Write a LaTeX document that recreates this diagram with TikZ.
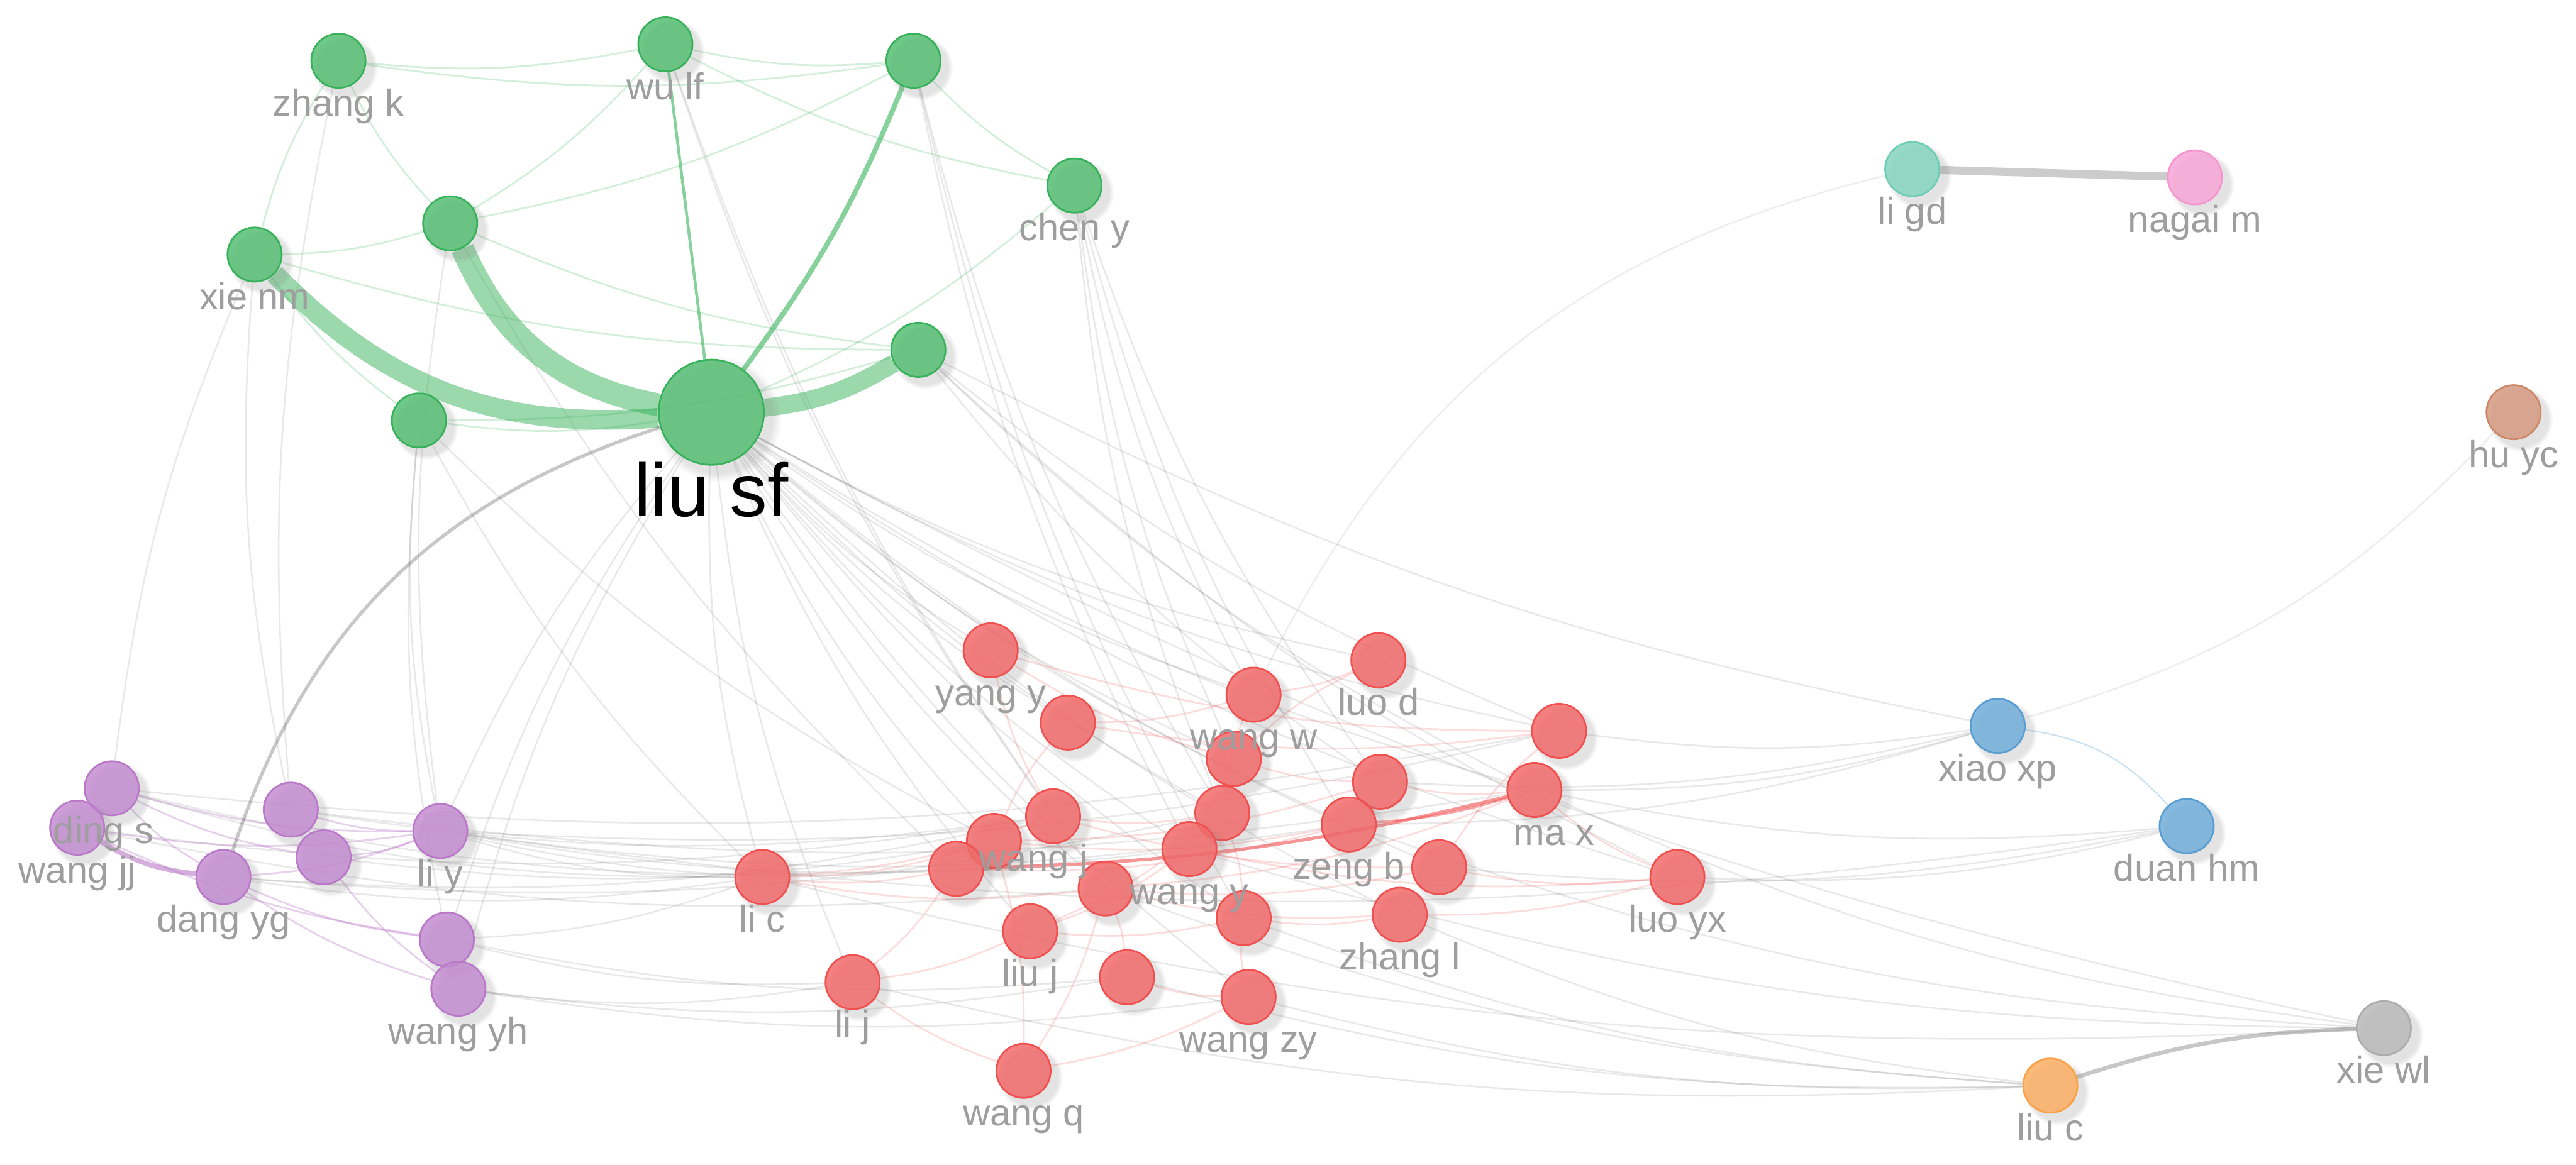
\documentclass[tikz,border=0pt]{standalone}
\usepackage{fontspec}
\setmainfont{Liberation Sans}
\usepackage{xcolor}
\usetikzlibrary{positioning, shadows, backgrounds}

\definecolor{vgreen}{RGB}{55,178,90}
\definecolor{vred}{RGB}{240,80,80}
\definecolor{vpurple}{RGB}{185,120,200}
\definecolor{vteal}{RGB}{110,205,178}
\definecolor{vpink}{RGB}{245,150,208}
\definecolor{vbrown}{RGB}{205,135,105}
\definecolor{vblue}{RGB}{88,158,210}
\definecolor{vorange}{RGB}{250,160,70}
\definecolor{vgray}{RGB}{172,172,172}
\definecolor{labgray}{RGB}{158,158,158}

\tikzset{
  author/.style={circle, minimum size=0.66cm, inner sep=0pt, fill opacity=.85, line width=.6pt,
    circular drop shadow={shadow scale=1.2, shadow xshift=2pt, shadow yshift=-2pt, opacity=.22}},
  grn/.style={author, fill=vgreen!85, draw=vgreen},
  rd/.style={author, fill=vred!85, draw=vred},
  prp/.style={author, fill=vpurple!85, draw=vpurple},
  nm/.style={text=labgray, font=\fontsize{13}{13}\selectfont, anchor=base, inner sep=0pt, fill opacity=1, text opacity=1},
  who/.style={label={[nm]below:#1}},
  link/.style={draw=black, opacity=.09, line width=.55pt},
  glink/.style={draw=vgreen, opacity=.22, line width=.6pt},
  rlink/.style={draw=vred, opacity=.2, line width=.6pt},
  plink/.style={draw=vpurple, opacity=.35, line width=.6pt},
}

\begin{document}
\begin{tikzpicture}[x=0.02cm, y=-0.02cm, label distance=0.33cm]
  \useasboundingbox (0,0) rectangle (1568,709);

  % green group
  \node[grn, minimum size=1.28cm] (liusf) at (433,251) {};
  \node[grn] (zhangk) at (206,37) {};
  \node[grn] (wulf) at (405,27) {};
  \node[grn] (g_1) at (556,37) {};
  \node[grn] (cheny) at (654,113) {};
  \node[grn] (g_2) at (274,136) {};
  \node[grn] (xienm) at (155,155) {};
  \node[grn] (g_3) at (559,213) {};
  \node[grn] (g_4) at (255,256) {};

  % purple group
  \node[prp] (dings) at (68,480) {};
  \node[prp] (wangjj) at (47,504) {};
  \node[prp] (p_1) at (177,493) {};
  \node[prp] (p_2) at (197,522) {};
  \node[prp] (dangyg) at (136,534) {};
  \node[prp] (liy) at (268,506) {};
  \node[prp] (p_3) at (272,572) {};
  \node[prp] (wangyh) at (279,602) {};

  % red group
  \node[rd] (lic) at (464,534) {};
  \node[rd] (lij) at (519,598) {};
  \node[rd] (yangy) at (603,396) {};
  \node[rd] (r_1) at (650,440) {};
  \node[rd] (wangw) at (763,423) {};
  \node[rd] (luod) at (839,402) {};
  \node[rd] (r_2) at (949,445) {};
  \node[rd] (r_3) at (751,462) {};
  \node[rd] (r_4) at (840,476) {};
  \node[rd] (max) at (934,481) {};
  \node[rd] (wangj) at (641,497) {};
  \node[rd] (r_5) at (605,512) {};
  \node[rd] (r_6) at (582,529) {};
  \node[rd] (r_7) at (744,495) {};
  \node[rd] (wangy) at (724,517) {};
  \node[rd] (zengb) at (821,502) {};
  \node[rd] (r_8) at (876,528) {};
  \node[rd] (r_9) at (673,541) {};
  \node[rd] (r_10) at (757,559) {};
  \node[rd] (zhangl) at (852,557) {};
  \node[rd] (luoyx) at (1021,534) {};
  \node[rd] (liuj) at (627,567) {};
  \node[rd] (r_11) at (686,595) {};
  \node[rd] (wangzy) at (760,607) {};
  \node[rd] (wangq) at (623,652) {};

  % small groups on the right
  \node[author, fill=vteal!85, draw=vteal] (ligd) at (1164,103) {};
  \node[author, fill=vpink!85, draw=vpink] (nagaim) at (1336,108) {};
  \node[author, fill=vbrown!85, draw=vbrown] (huyc) at (1530,251) {};
  \node[author, fill=vblue!85, draw=vblue] (xiaoxp) at (1216,442) {};
  \node[author, fill=vblue!85, draw=vblue] (duanhm) at (1331,503) {};
  \node[author, fill=vgray!85, draw=vgray] (xiewl) at (1451,626) {};
  \node[author, fill=vorange!85, draw=vorange] (liuc) at (1248,661) {};

  % names go on top of all circles
  \foreach \n/\t in {zhangk/zhang k, wulf/wu lf, cheny/chen y, xienm/xie nm,
      wangjj/wang jj, dangyg/dang yg, liy/li y, wangyh/wang yh,
      lic/li c, lij/li j, yangy/yang y, wangw/wang w, luod/luo d, wangy/wang y,
      zengb/zeng b, zhangl/zhang l, luoyx/luo yx, liuj/liu j, wangzy/wang zy, wangq/wang q,
      ligd/li gd, nagaim/nagai m, huyc/hu yc, xiaoxp/xiao xp, duanhm/duan hm,
      xiewl/xie wl, liuc/liu c}
    \node also [who=\t] (\n);
  \node also [label={[nm, xshift=-0.1cm]below:ding s}] (dings);
  \node also [label={[nm, xshift=0.24cm]below:ma x}] (max);
  \node also [label={[nm, xshift=-0.24cm]below:wang j}] (wangj);
  \node also [label={[nm, yshift=-0.29cm, text=black, font=\fontsize{26}{26}\selectfont]below:liu sf}] (liusf);

  \begin{scope}[on background layer]
    % faint links between groups
    \foreach \a/\b in {liusf/yangy, liusf/r_1, liusf/wangw, liusf/r_3, liusf/r_7, liusf/wangy,
        liusf/zengb, liusf/r_8, liusf/max, liusf/luod, liusf/zhangl, liusf/wangzy, liusf/liuj,
        liusf/lic, liusf/lij, liusf/r_9, liusf/liy, liusf/p_3, liusf/wangyh, liusf/r_5, liusf/r_2,
        liusf/xiewl, liusf/luoyx, liusf/r_10,
        cheny/wangw, cheny/r_3, cheny/zengb, cheny/r_7, cheny/r_4, g_1/r_7, g_1/wangy, g_1/r_10,
        g_3/r_2, g_3/max, g_3/luoyx, g_3/xiaoxp, g_3/r_4, wulf/wangj, wulf/r_9,
        zhangk/p_1, xienm/p_1, xienm/dings, g_2/liy, g_2/r_6, g_4/liy, g_4/p_3, g_4/lic, g_4/r_5,
        dings/lic, dings/r_6, dings/r_2, wangjj/r_9, wangjj/wangj, p_1/wangj, p_1/max, p_2/r_5,
        liy/r_6, liy/wangy, liy/zengb, liy/lic, liy/duanhm, liy/r_2, p_3/lic, p_3/lij, p_3/r_11,
        wangyh/lij, wangyh/r_11, wangyh/wangzy, dangyg/lic, dangyg/wangj, dangyg/r_7,
        max/xiaoxp, r_2/xiaoxp, zengb/xiaoxp, r_4/xiaoxp, r_8/duanhm, max/duanhm, luoyx/duanhm,
        max/xiewl, zengb/xiewl, wangy/xiewl, lic/xiewl, zhangl/liuc, wangzy/liuc, r_10/liuc,
        r_11/liuc, lij/liuc, r_9/liuc}
      \draw[link] (\a) to[bend right=8] (\b);

    % green links
    \foreach \a/\b in {zhangk/wulf, zhangk/g_1, wulf/g_1, g_1/cheny, wulf/cheny, zhangk/g_2,
        zhangk/xienm, xienm/g_2, xienm/g_3, g_2/g_1, g_2/g_3, g_2/wulf, g_4/liusf, g_4/g_3,
        xienm/g_4, liusf/cheny}
      \draw[glink] (\a) to[bend right=8] (\b);

    % purple links
    \foreach \a/\b in {dings/liy, dings/dangyg, dings/p_2, wangjj/p_3, dangyg/p_3, dangyg/wangyh,
        p_1/liy, p_2/liy, dangyg/liy, p_1/p_2, wangjj/liy, p_2/wangyh}
      \draw[plink] (\a) to[bend right=8] (\b);

    % red links
    \foreach \a/\b in {yangy/r_3, yangy/r_2, r_1/r_2, r_1/wangw, wangw/luod, luod/r_3, r_3/r_4,
        r_4/max, max/luoyx, wangy/luoyx, r_8/luoyx, zhangl/luoyx, wangj/r_7, r_5/zengb,
        r_9/zhangl, liuj/r_7, r_11/wangzy, wangq/r_9, wangq/wangzy, wangq/r_5, lij/wangq,
        lij/r_6, lij/liuj, lic/r_6, lic/r_5, lic/wangj, lic/r_9, r_10/wangzy, r_10/zhangl,
        r_10/r_7, wangw/r_7, r_11/r_9, liuj/r_10, r_9/r_8, yangy/wangj, r_1/r_5, r_6/zengb,
        wangj/r_8, r_5/r_4, r_9/max, liuj/wangy, r_2/r_8}
      \draw[rlink] (\a) to[bend right=8] (\b);

    % strong links
    \draw[draw=vgreen, opacity=.5, line width=.24cm] (xienm) to[bend right=25] (liusf);
    \draw[draw=vgreen, opacity=.5, line width=.28cm] (g_2) to[bend right=28] (liusf);
    \draw[draw=vgreen, opacity=.5, line width=.22cm] (liusf) to[bend right=12] (g_3);
    \draw[draw=vgreen, opacity=.6, line width=.06cm] (liusf) to[bend right=7] (g_1);
    \draw[draw=vgreen, opacity=.6, line width=.035cm] (liusf) to (wulf);
    \draw[draw=black, opacity=.22, line width=.04cm] (dangyg) to[bend left=27] (liusf);
    \draw[draw=vpurple, opacity=.6, line width=.06cm] (wangjj) to[bend right=12] (dangyg);
    \draw[draw=vred, opacity=.6, line width=.04cm] (r_6) to[bend right=6] (max);
    \draw[draw=vred, opacity=.5, line width=.03cm] (zengb) to[bend right=6] (max);
    \draw[draw=black, opacity=.2, line width=.1cm] (ligd) to (nagaim);
    \draw[draw=black, opacity=.22, line width=.05cm] (liuc) to[bend left=8] (xiewl);
    \draw[draw=vblue, opacity=.3, line width=.5pt] (xiaoxp) to[bend left=20] (duanhm);
    \draw[link, opacity=.07] (xiaoxp) to[bend right=15] (huyc);
    \draw[link, opacity=.07] (wangw) to[bend left=25] (ligd);
  \end{scope}
\end{tikzpicture}
\end{document}
